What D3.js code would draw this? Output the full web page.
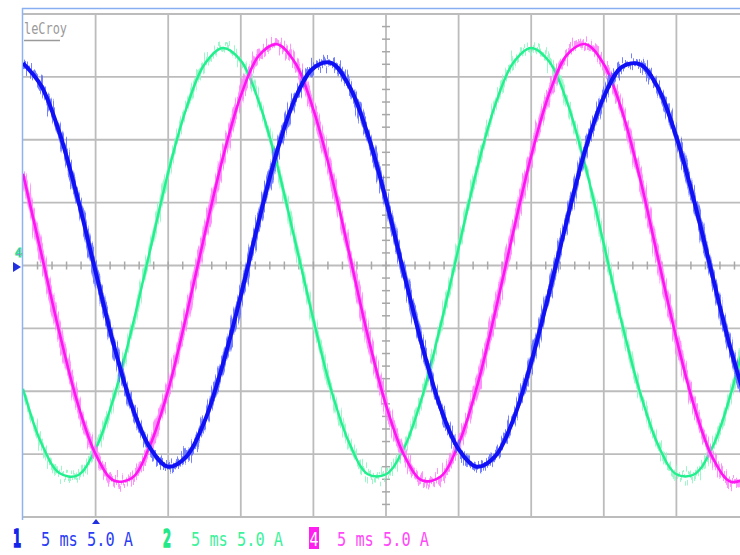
<!DOCTYPE html>
<html>
<head>
<meta charset="utf-8">
<script src="https://cdn.jsdelivr.net/npm/d3@7"></script>
<style>
  html, body { margin: 0; padding: 0; background: #fff; }
  svg { display: block; }
</style>
</head>
<body>
<div id="scope"></div>
<script>
// sample times (ms) and currents (A), 1.25 ms apart
const timeMs = [0, 1.25, 2.5, 3.75, 5, 6.25, 7.5, 8.75, 10, 11.25, 12.5, 13.75, 15, 16.25, 17.5, 18.75,
  20, 21.25, 22.5, 23.75, 25, 26.25, 27.5, 28.75, 30, 31.25, 32.5, 33.75, 35, 36.25, 37.5, 38.75,
  40, 41.25, 42.5, 43.75, 45, 46.25, 47.5, 48.75, 50];
const ch1 = [16.1, 14.3, 10.6, 5.4, -0.5, -6.3, -11.2, -14.5, -16.0, -15.2, -12.4, -7.9, -2.4, 3.6, 9.1, 13.3,
  15.7, 16.1, 14.2, 10.4, 5.2, -0.7, -6.4, -11.3, -14.6, -16.0, -15.2, -12.3, -7.7, -2.1, 3.8, 9.3,
  13.4, 15.8, 16.0, 14.1, 10.2, 5.0, -0.9, -6.7, -11.5];
const ch2 = [-9.8, -14.1, -16.5, -16.7, -14.6, -10.5, -5.0, 1.2, 7.4, 12.5, 16.0, 17.3, 16.3, 13.0, 8.0, 1.9,
  -4.3, -10.0, -14.2, -16.6, -16.6, -14.5, -10.4, -4.8, 1.4, 7.6, 12.7, 16.1, 17.3, 16.2, 12.9, 7.8,
  1.7, -4.6, -10.1, -14.3, -16.6, -16.6, -14.4, -10.2, -4.6];
const ch4 = [7.3, 1.0, -5.3, -10.9, -15.0, -17.1, -16.9, -14.3, -9.9, -4.0, 2.4, 8.5, 13.5, 16.7, 17.6, 16.1,
  12.4, 7.1, 0.8, -5.6, -11.1, -15.1, -17.1, -16.8, -14.2, -9.7, -3.8, 2.6, 8.7, 13.7, 16.8, 17.6,
  16.0, 12.3, 6.9, 0.5, -5.8, -11.3, -15.3, -17.2, -16.8];

const channels = [
  { id: '2', values: ch2, color: '#22ef8e', halo: '#8ff5c3', width: 2.4, spread: 2 },
  { id: '4', values: ch4, color: '#ff14f2', halo: '#ff80fb', width: 2.6, spread: 3.5 },
  { id: '1', values: ch1, color: '#1010f4', halo: '#5f6cff', width: 4, spread: 2 }
];
const legend = [
  { ch: '1', text: '5 ms 5.0 A', color: '#2b3cf6', chColor: '#1424e8' },
  { ch: '2', text: '5 ms 5.0 A', color: '#3cf29b', chColor: '#22e888' },
  { ch: '4', text: '5 ms 5.0 A', color: '#ff48f8', chColor: '#ff20f0' }
];
const timeTicks = [0, 5, 10, 15, 20, 25, 30, 35, 40, 45, 50];
const ampTicks = [-20, -15, -10, -5, 0, 5, 10, 15, 20];

(function() {
  const width = 740, height = 555;
  const svg = d3.select('#scope').append('svg')
    .attr('width', width).attr('height', height)
    .style('font-family', '"DejaVu Sans Mono", monospace');

  // 10 divisions of 5 ms, 8 divisions of 5 A; right edge runs off the shot
  const x = d3.scaleLinear().domain([0, 50]).range([23, 749]);
  const y = d3.scaleLinear().domain([-20, 20]).range([517, 14]);

  const defs = svg.append('defs');
  defs.append('clipPath').attr('id', 'plot')
    .append('rect').attr('x', 23).attr('y', 14).attr('width', width - 23).attr('height', 503);

  // vertical-only jitter for the noisy trace halo
  const f = defs.append('filter').attr('id', 'jit')
    .attr('x', '-5%').attr('y', '-10%').attr('width', '110%').attr('height', '120%');
  f.append('feTurbulence').attr('type', 'fractalNoise').attr('baseFrequency', '0.8 0.03')
    .attr('numOctaves', 2).attr('seed', 7).attr('result', 'n');
  f.append('feColorMatrix').attr('in', 'n').attr('type', 'matrix')
    .attr('values', '0 0 0 0 0.5  0 1 0 0 0  0 0 0 0 0  0 0 0 0 1').attr('result', 'm');
  f.append('feDisplacementMap').attr('in', 'SourceGraphic').attr('in2', 'm')
    .attr('scale', 28).attr('xChannelSelector', 'R').attr('yChannelSelector', 'G');

  // grid
  const grid = svg.append('g').attr('stroke', '#bcbcbc').attr('stroke-width', 1.8);
  grid.selectAll('line.v').data(timeTicks.slice(1)).join('line').attr('class', 'v')
    .attr('x1', d => x(d)).attr('x2', d => x(d)).attr('y1', y(20)).attr('y2', y(-20));
  grid.selectAll('line.h').data(ampTicks).join('line').attr('class', 'h')
    .attr('x1', x(0)).attr('x2', width).attr('y1', d => y(d)).attr('y2', d => y(d));

  // minor ticks on the centre cross
  const minor = svg.append('g').attr('stroke', '#a8a8a8').attr('stroke-width', 1.5);
  minor.selectAll('line.tx').data(d3.range(1, 50)).join('line').attr('class', 'tx')
    .attr('x1', d => x(d)).attr('x2', d => x(d)).attr('y1', y(0) - 4).attr('y2', y(0) + 4);
  minor.selectAll('line.ty').data(d3.range(-19, 20)).join('line').attr('class', 'ty')
    .attr('x1', x(25) - 4).attr('x2', x(25) + 4).attr('y1', d => y(d)).attr('y2', d => y(d));

  // light blue frame at top and left
  svg.append('line').attr('x1', 22).attr('x2', width).attr('y1', 8.5).attr('y2', 8.5)
    .attr('stroke', '#86aef0').attr('stroke-width', 1.5);
  svg.append('line').attr('x1', 22.5).attr('x2', 22.5).attr('y1', 8).attr('y2', 520)
    .attr('stroke', '#8db4f2').attr('stroke-width', 1.5);

  // LeCroy logo
  svg.append('text').attr('x', 24).attr('y', 34).attr('font-size', 15)
    .attr('textLength', 43).attr('lengthAdjust', 'spacingAndGlyphs')
    .attr('fill', '#9a9a9a').text('leCroy');
  svg.append('line').attr('x1', 24).attr('x2', 60).attr('y1', 40.5).attr('y2', 40.5)
    .attr('stroke', '#9a9a9a').attr('stroke-width', 1.5);

  // traces
  const line = d3.line().x((d, i) => x(timeMs[i])).y(d => y(d)).curve(d3.curveCatmullRom);
  const traces = svg.append('g').attr('clip-path', 'url(#plot)');
  channels.forEach(c => {
    traces.append('path').attr('d', line(c.values)).attr('fill', 'none')
      .attr('stroke', c.halo).attr('stroke-width', c.width + c.spread).attr('opacity', 0.85)
      .attr('filter', 'url(#jit)');
    traces.append('path').attr('d', line(c.values)).attr('fill', 'none')
      .attr('stroke', c.color).attr('stroke-width', c.width);
  });

  // trigger and ground markers
  svg.append('path').attr('d', 'M92,524L96,519L100,524Z').attr('fill', '#2030e0');
  svg.append('path').attr('d', 'M13,262L21,267L13,272Z').attr('fill', '#2030e0');
  svg.append('text').attr('x', 15).attr('y', 257).attr('font-size', 12).attr('font-weight', 'bold')
    .attr('fill', '#ff30f0').attr('stroke', '#22ef8e').attr('stroke-width', 0.9).text('4');

  // channel legend along the bottom (tall, narrow scope font)
  const lx = [13, 163, 309];
  legend.forEach((l, i) => {
    if (l.ch === '4') {
      svg.append('rect').attr('x', lx[i]).attr('y', 527).attr('width', 10).attr('height', 22)
        .attr('fill', l.chColor);
      svg.append('text').attr('transform', `translate(${lx[i] + 0.5},546) scale(1,1.35)`)
        .attr('font-size', 15).attr('textLength', 9).attr('lengthAdjust', 'spacingAndGlyphs')
        .attr('fill', '#fff').text(l.ch);
    } else {
      svg.append('text').attr('transform', `translate(${lx[i]},547) scale(1,1.6)`)
        .attr('font-size', 15).attr('font-weight', 'bold')
        .attr('textLength', 8).attr('lengthAdjust', 'spacingAndGlyphs')
        .attr('fill', l.chColor).attr('stroke', l.chColor).attr('stroke-width', 0.9)
        .text(l.ch);
    }
    svg.append('text').attr('transform', `translate(${lx[i] + 28},546) scale(1,1.3)`)
      .attr('font-size', 15.3).attr('textLength', 92).attr('lengthAdjust', 'spacingAndGlyphs')
      .attr('fill', l.color).text(l.text);
  });
})();
</script>
</body>
</html>
